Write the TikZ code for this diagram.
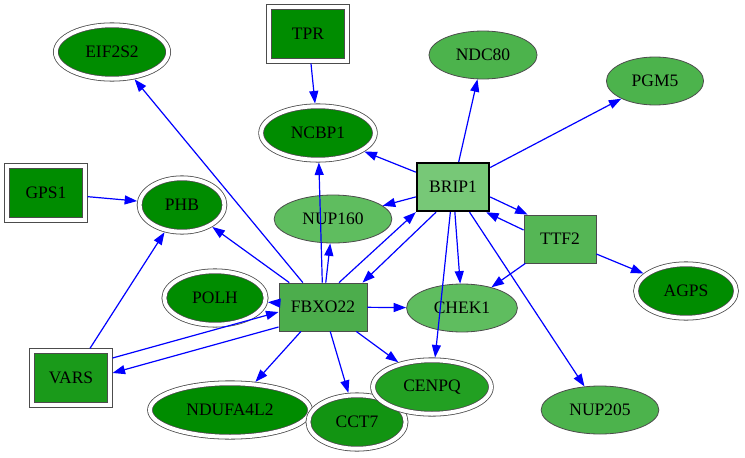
\documentclass[tikz,border=0pt]{standalone}
\usepackage{fontspec}
\setmainfont{Liberation Serif}
\usetikzlibrary{shapes.geometric,arrows.meta}

\definecolor{gdark}{RGB}{0,140,0}
\definecolor{gvars}{RGB}{26,154,26}
\definecolor{gcct}{RGB}{18,148,18}
\definecolor{gcenp}{RGB}{34,160,34}
\definecolor{gmid}{RGB}{76,179,76}
\definecolor{gsoft}{RGB}{95,189,95}
\definecolor{glight}{RGB}{119,200,119}
\definecolor{gttf}{RGB}{85,182,85}
\definecolor{gfbx}{RGB}{76,173,76}

\begin{document}
\begin{tikzpicture}
        [x=1pt, y=-1pt,
        every node/.style={font=\fontsize{17.5}{20}\selectfont},
        gene/.style={ellipse, draw=black!70, line width=0.8pt, minimum height=48pt, inner xsep=11pt, inner ysep=2pt},
        dgene/.style={gene, double=white, double distance=4pt, minimum height=53.5pt, inner xsep=13pt, outer sep=2.8pt},
        hub/.style={rectangle, draw=black!70, line width=0.8pt, minimum width=72pt, minimum height=48pt, inner xsep=12pt},
        dhub/.style={hub, double=white, double distance=4pt, minimum width=77.5pt, minimum height=53.5pt, outer sep=2.8pt},
        link/.style={blue, line width=1.2pt, -{Triangle[length=12.5pt,width=9pt]}}]

        \useasboundingbox (0,0) rectangle (745,458);

        \node[dgene, fill=gdark] (eif2s2) at (112,52) {EIF2S2};
        \node[dhub, fill=gdark] (tpr) at (308,34) {TPR};
        \node[gene, fill=gmid] (ndc80) at (483,55) {NDC80};
        \node[gene, fill=gmid] (pgm5) at (655,81) {PGM5};
        \node[dgene, fill=gdark] (ncbp1) at (318,133) {NCBP1};
        \node[dhub, fill=gdark] (gps1) at (46,193) {GPS1};
        \node[dgene, fill=gdark] (phb) at (182,205) {PHB};
        \node[hub, fill=glight, draw=black, line width=2.4pt] (brip1) at (453,187) {BRIP1};
        \node[gene, fill=gsoft] (nup160) at (333,219) {NUP160};
        \node[hub, fill=gttf] (ttf2) at (560,239) {TTF2};
        \node[dgene, fill=gdark] (polh) at (215,298) {POLH};
        \node[hub, fill=gfbx] (fbxo22) at (323,307) {FBXO22};
        \node[gene, fill=gsoft] (chek1) at (462,308) {CHEK1};
        \node[dgene, fill=gdark] (agps) at (686,291) {AGPS};
        \node[dhub, fill=gvars] (vars) at (71,378) {VARS};
        \node[dgene, fill=gdark] (ndufa4l2) at (230,410) {NDUFA4L2};
        \node[dgene, fill=gcct] (cct7) at (357,422) {CCT7};
        \node[dgene, fill=gcenp] (cenpq) at (432,387) {CENPQ};
        \node[gene, fill=gmid] (nup205) at (600,410) {NUP205};

        % edges into the left side
        \draw[link] (tpr) -- (ncbp1);
        \draw[link] (gps1) -- (phb);
        \draw[link] (vars) -- (phb);
        \draw[link] ([yshift=20pt]vars.east) -- ([yshift=-5pt]fbxo22.west);
        \draw[link] ([yshift=-20pt]fbxo22.west) -- ([yshift=5pt]vars.east);

        % FBXO22 edges
        \draw[link] ([yshift=4pt]fbxo22.west) -- (polh);
        \draw[link] (fbxo22) -- (eif2s2);
        \draw[link] (fbxo22) -- (phb);
        \draw[link] (fbxo22) -- (ncbp1);
        \draw[link] (fbxo22) -- (nup160);
        \draw[link] (fbxo22) -- (chek1);
        \draw[link] (fbxo22) -- (cenpq);
        \draw[link] (fbxo22) -- (cct7);
        \draw[link] (fbxo22) -- (ndufa4l2);
        \draw[link] ([xshift=16pt]fbxo22.north) -- (brip1.south west);

        % BRIP1 edges
        \draw[link] ([xshift=-17pt]brip1.south) -- ([xshift=-5pt]fbxo22.north east);
        \draw[link] (brip1) -- (ncbp1);
        \draw[link] (brip1) -- (nup160);
        \draw[link] (brip1) -- (ndc80);
        \draw[link] (brip1) -- (pgm5);
        \draw[link] (brip1) -- (chek1);
        \draw[link] (brip1) -- (cenpq);
        \draw[link] (brip1) -- (nup205);
        \draw[link] ([yshift=-10pt]brip1.east) -- ([xshift=4pt]ttf2.north west);

        % TTF2 edges
        \draw[link] ([yshift=9pt]ttf2.west) -- ([xshift=-4pt]brip1.south east);
        \draw[link] (ttf2) -- (chek1);
        \draw[link] (ttf2) -- (agps);

\end{tikzpicture}
\end{document}
